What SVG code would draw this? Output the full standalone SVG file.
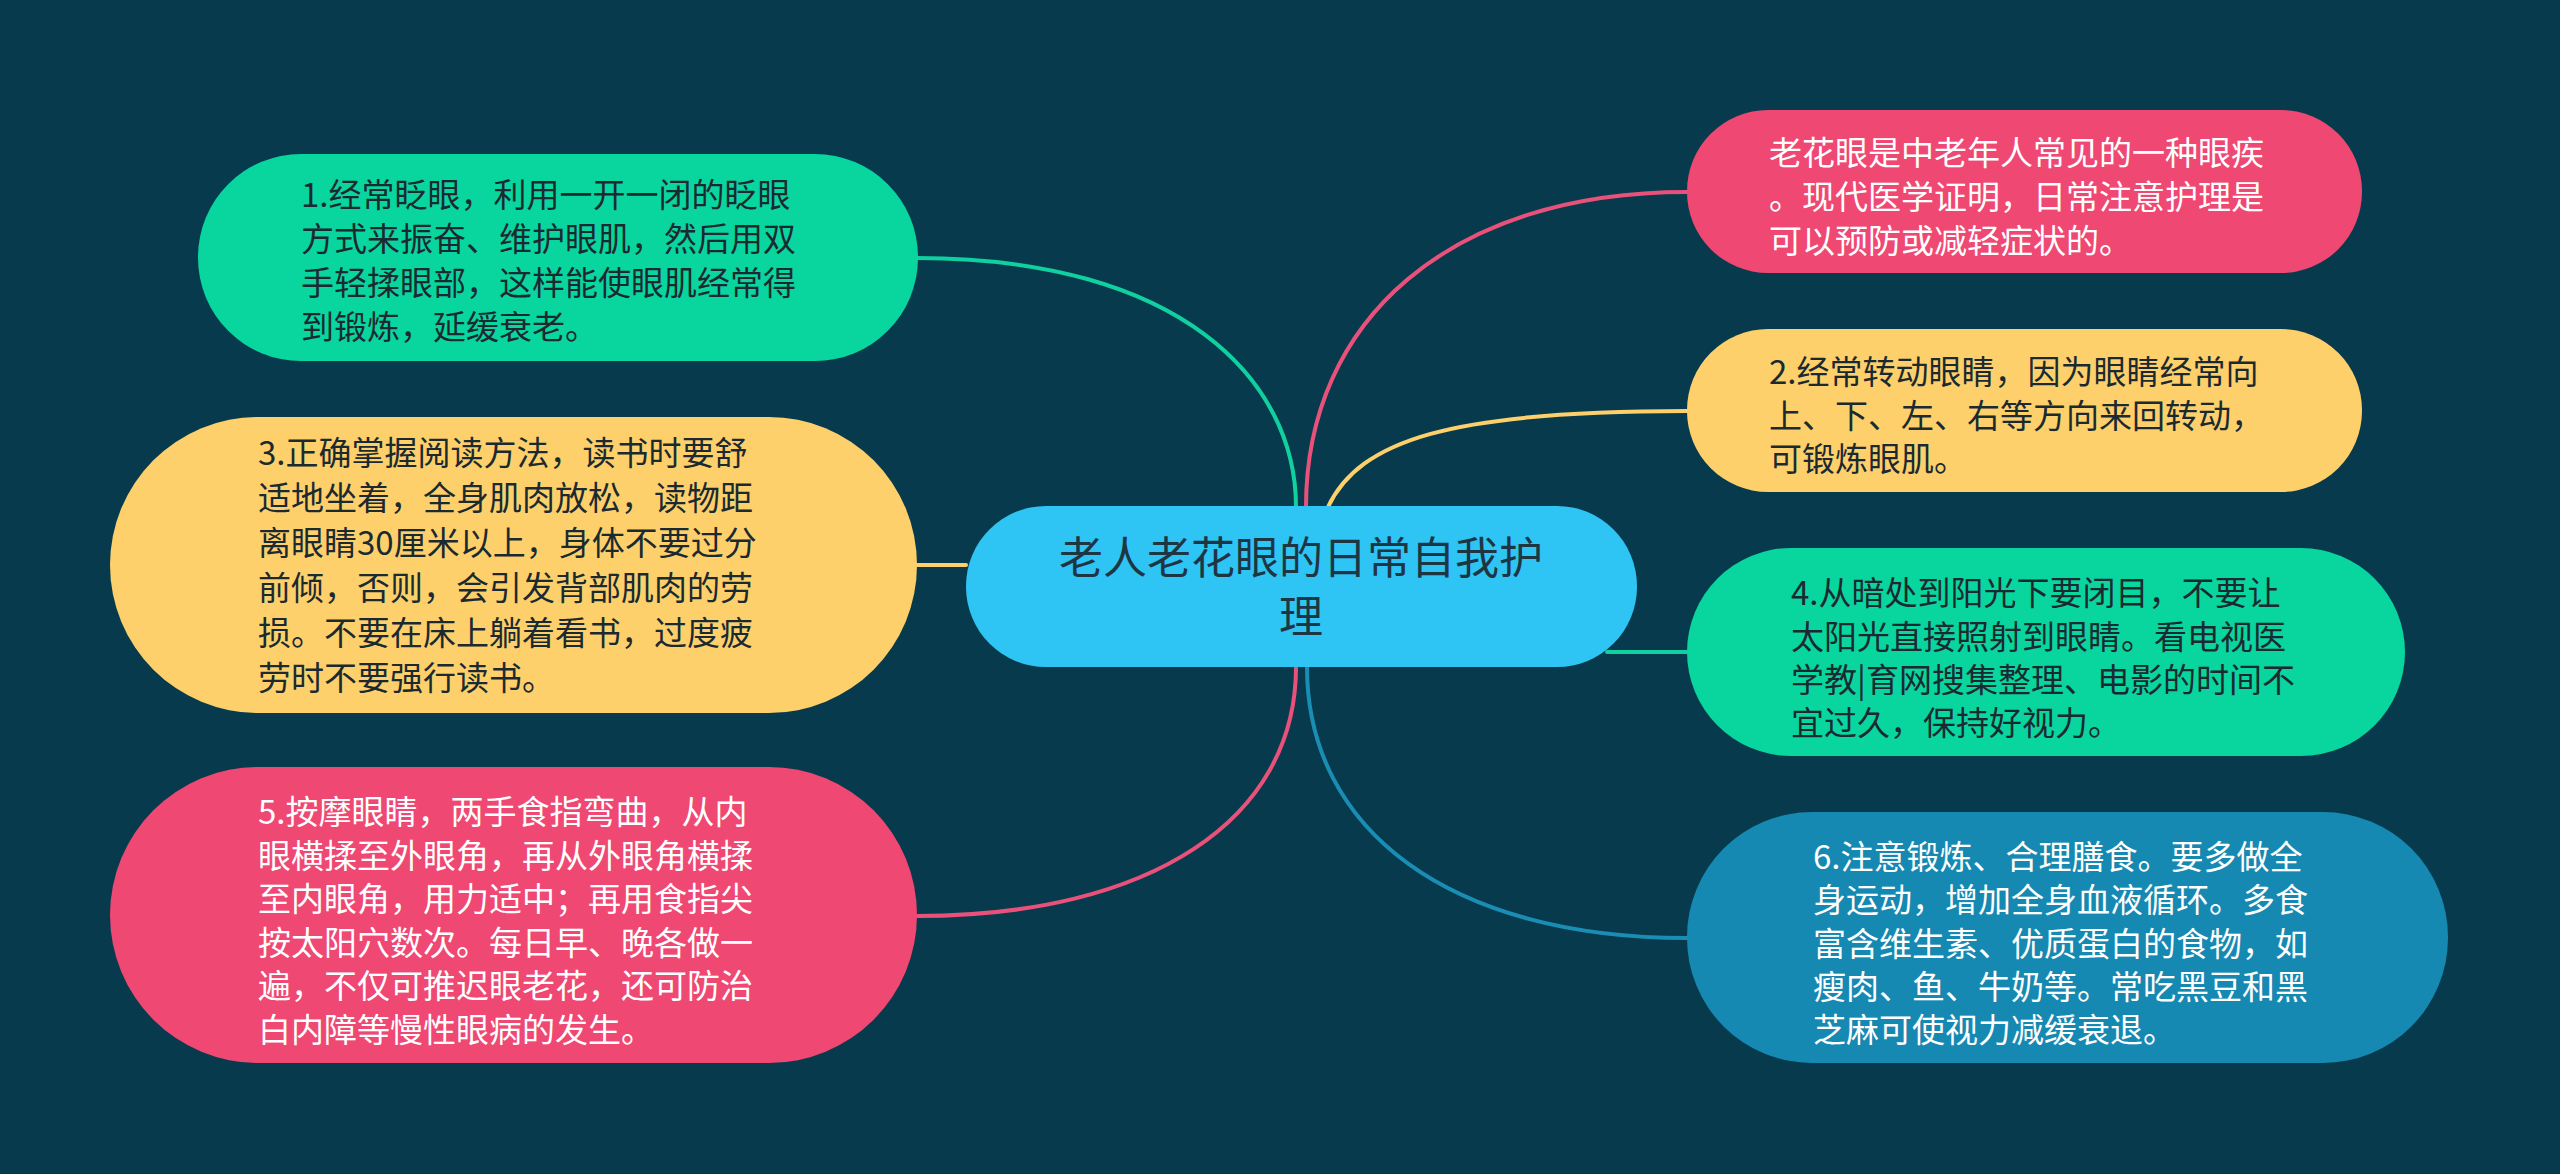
<svg xmlns="http://www.w3.org/2000/svg" width="2560" height="1174" viewBox="0 0 2560 1174">
<style>
.t{font-family:"Noto Sans CJK SC","Noto Sans",sans-serif;font-size:33px;}
.dk{fill:#1b2a30;}
.wt{fill:#ffffff;}
.c{fill:none;stroke-width:4;stroke-linecap:round;}
</style>
<rect x="0" y="0" width="2560" height="1174" fill="#073a4c"/>
<g id="connectors">
<path class="c" stroke="#10d0a0" d="M1296,507 C1296,380 1180,258 917,258"/>
<path class="c" stroke="#fdd06b" d="M966,565 L917,565"/>
<path class="c" stroke="#e9517b" d="M1296,667 C1296,820 1150,916 917,916"/>
<path class="c" stroke="#e9517b" d="M1306,507 C1306,320 1450,192 1687,192"/>
<path class="c" stroke="#fdd06b" d="M1328,507 C1360,440 1450,411 1687,411"/>
<path class="c" stroke="#10d0a0" d="M1607,652 L1687,652"/>
<path class="c" stroke="#1a8db5" d="M1307,667 C1307,830 1450,938 1687,938"/>
</g>
<g id="center">
<rect x="966" y="506" width="671" height="161" rx="80" fill="#2ec4f4"/>
<text x="1301" y="574" text-anchor="middle" font-family="Noto Sans CJK SC, sans-serif" font-size="44" fill="#1e3644">老人老花眼的日常自我护</text>
<text x="1301" y="633" text-anchor="middle" font-family="Noto Sans CJK SC, sans-serif" font-size="44" fill="#1e3644">理</text>
</g>
<g id="node1">
<rect x="198" y="154" width="720" height="207" rx="103" fill="#09d59f"/>
<text class="t dk" x="301"><tspan x="301" y="207">1.经常眨眼，利用一开一闭的眨眼</tspan><tspan x="301" y="251">方式来振奋、维护眼肌，然后用双</tspan><tspan x="301" y="295">手轻揉眼部，这样能使眼肌经常得</tspan><tspan x="301" y="339">到锻炼，延缓衰老。</tspan></text>
</g>
<g id="node3">
<rect x="110" y="417" width="807" height="296" rx="148" fill="#fdd06b"/>
<text class="t dk"><tspan x="258" y="465">3.正确掌握阅读方法，读书时要舒</tspan><tspan x="258" y="510">适地坐着，全身肌肉放松，读物距</tspan><tspan x="258" y="555">离眼睛30厘米以上，身体不要过分</tspan><tspan x="258" y="600">前倾，否则，会引发背部肌肉的劳</tspan><tspan x="258" y="645">损。不要在床上躺着看书，过度疲</tspan><tspan x="258" y="690">劳时不要强行读书。</tspan></text>
</g>
<g id="node5">
<rect x="110" y="767" width="807" height="296" rx="148" fill="#ef4873"/>
<text class="t wt"><tspan x="258" y="824">5.按摩眼睛，两手食指弯曲，从内</tspan><tspan x="258" y="868">眼横揉至外眼角，再从外眼角横揉</tspan><tspan x="258" y="911">至内眼角，用力适中；再用食指尖</tspan><tspan x="258" y="955">按太阳穴数次。每日早、晚各做一</tspan><tspan x="258" y="998">遍，不仅可推迟眼老花，还可防治</tspan><tspan x="258" y="1042">白内障等慢性眼病的发生。</tspan></text>
</g>
<g id="node0">
<rect x="1687" y="110" width="675" height="163" rx="81" fill="#ef4873"/>
<text class="t wt"><tspan x="1769" y="165">老花眼是中老年人常见的一种眼疾</tspan><tspan x="1769" y="209">。现代医学证明，日常注意护理是</tspan><tspan x="1769" y="253">可以预防或减轻症状的。</tspan></text>
</g>
<g id="node2">
<rect x="1687" y="329" width="675" height="163" rx="81" fill="#fdd06b"/>
<text class="t dk"><tspan x="1769" y="384">2.经常转动眼睛，因为眼睛经常向</tspan><tspan x="1769" y="428">上、下、左、右等方向来回转动，</tspan><tspan x="1769" y="471">可锻炼眼肌。</tspan></text>
</g>
<g id="node4">
<rect x="1687" y="548" width="718" height="208" rx="104" fill="#09d59f"/>
<text class="t dk"><tspan x="1791" y="605">4.从暗处到阳光下要闭目，不要让</tspan><tspan x="1791" y="649">太阳光直接照射到眼睛。看电视医</tspan><tspan x="1791" y="692">学教|育网搜集整理、电影的时间不</tspan><tspan x="1791" y="735">宜过久，保持好视力。</tspan></text>
</g>
<g id="node6">
<rect x="1687" y="812" width="761" height="251" rx="125" fill="#1689b2"/>
<text class="t wt"><tspan x="1813" y="869">6.注意锻炼、合理膳食。要多做全</tspan><tspan x="1813" y="912">身运动，增加全身血液循环。多食</tspan><tspan x="1813" y="956">富含维生素、优质蛋白的食物，如</tspan><tspan x="1813" y="999">瘦肉、鱼、牛奶等。常吃黑豆和黑</tspan><tspan x="1813" y="1042">芝麻可使视力减缓衰退。</tspan></text>
</g>
</svg>
